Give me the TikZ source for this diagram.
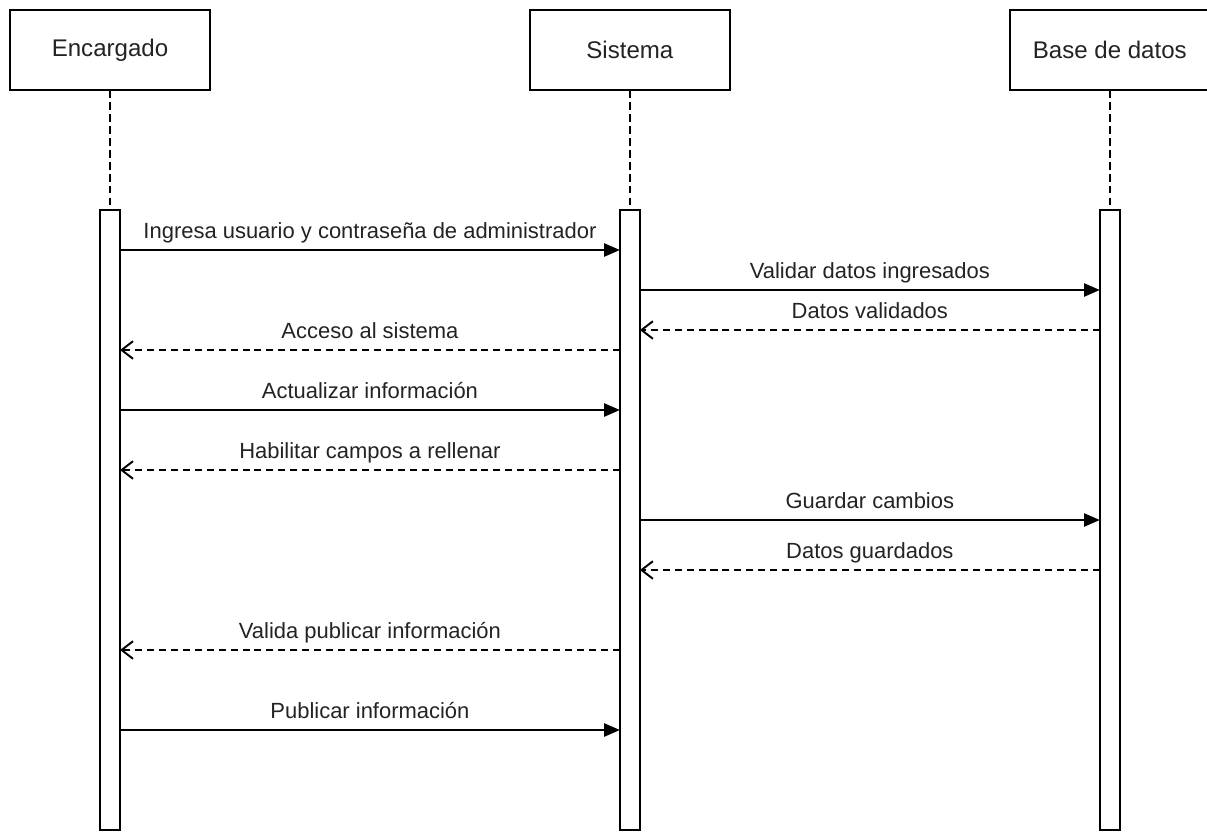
\documentclass[tikz,border=0pt]{standalone}
\usepackage{fontspec}
\setmainfont{Liberation Sans}
\usetikzlibrary{arrows.meta,positioning}
\definecolor{Ink}{RGB}{0,0,0}
\definecolor{TextGray}{RGB}{35,35,35}
\tikzset{
  actor/.style={draw=Ink,line width=1.1pt,fill=white,minimum width=4cm,minimum height=1.6cm,inner sep=0pt,outer sep=0pt,font=\fontsize{13.7}{16}\selectfont,text=TextGray},
  bar/.style={draw=Ink,line width=1.1pt,fill=white,minimum width=0.4cm,minimum height=12.4cm,inner sep=0pt,outer sep=0pt},
  lifeline/.style={draw=Ink,line width=1.1pt,dash pattern=on 4.5pt off 2.3pt},
  callmsg/.style={-{Triangle[length=9pt,width=7.5pt]},line width=1.1pt,draw=Ink},
  retmsg/.style={-{Straight Barb[length=6.5pt,width=10pt]},line width=1.1pt,draw=Ink,dash pattern=on 4pt off 2.8pt},
  msglabel/.style={anchor=base,yshift=6.8pt,inner sep=0pt,font=\fontsize{12.5}{14}\selectfont,text=TextGray}
}
\begin{document}
\begin{tikzpicture}[x=0.02cm,y=-0.02cm]
\useasboundingbox (0,0) rectangle (1207,832);
% participants
\node[actor] (enc) at (110,50) {Encargado};
\node[actor,right=6.4cm of enc] (sis) {Sistema};
\node[actor,right=5.6cm of sis] (bd) {Base de datos};
% activation bars
\node[bar,below=2.4cm of enc] (encA) {};
\node[bar,below=2.4cm of sis] (sisA) {};
\node[bar,below=2.4cm of bd] (bdA) {};
\draw[lifeline](enc)--(encA);
\draw[lifeline](sis)--(sisA);
\draw[lifeline](bd)--(bdA);
% message rows
\coordinate (m1) at (0,250);
\coordinate (m2) at (0,290);
\coordinate (m3) at (0,330);
\coordinate (m4) at (0,350);
\coordinate (m5) at (0,410);
\coordinate (m6) at (0,470);
\coordinate (m7) at (0,520);
\coordinate (m8) at (0,570);
\coordinate (m9) at (0,650);
\coordinate (m10) at (0,730);
\draw[callmsg](encA.east |- m1)--node[msglabel]{Ingresa usuario y contraseña de administrador}(sisA.west |- m1);
\draw[callmsg](sisA.east |- m2)--node[msglabel]{Validar datos ingresados}(bdA.west |- m2);
\draw[retmsg](bdA.west |- m3)--node[msglabel]{Datos validados}(sisA.east |- m3);
\draw[retmsg](sisA.west |- m4)--node[msglabel]{Acceso al sistema}(encA.east |- m4);
\draw[callmsg](encA.east |- m5)--node[msglabel]{Actualizar información}(sisA.west |- m5);
\draw[retmsg](sisA.west |- m6)--node[msglabel]{Habilitar campos a rellenar}(encA.east |- m6);
\draw[callmsg](sisA.east |- m7)--node[msglabel]{Guardar cambios}(bdA.west |- m7);
\draw[retmsg](bdA.west |- m8)--node[msglabel]{Datos guardados}(sisA.east |- m8);
\draw[retmsg](sisA.west |- m9)--node[msglabel]{Valida publicar información}(encA.east |- m9);
\draw[callmsg](encA.east |- m10)--node[msglabel]{Publicar información}(sisA.west |- m10);
\end{tikzpicture}
\end{document}
